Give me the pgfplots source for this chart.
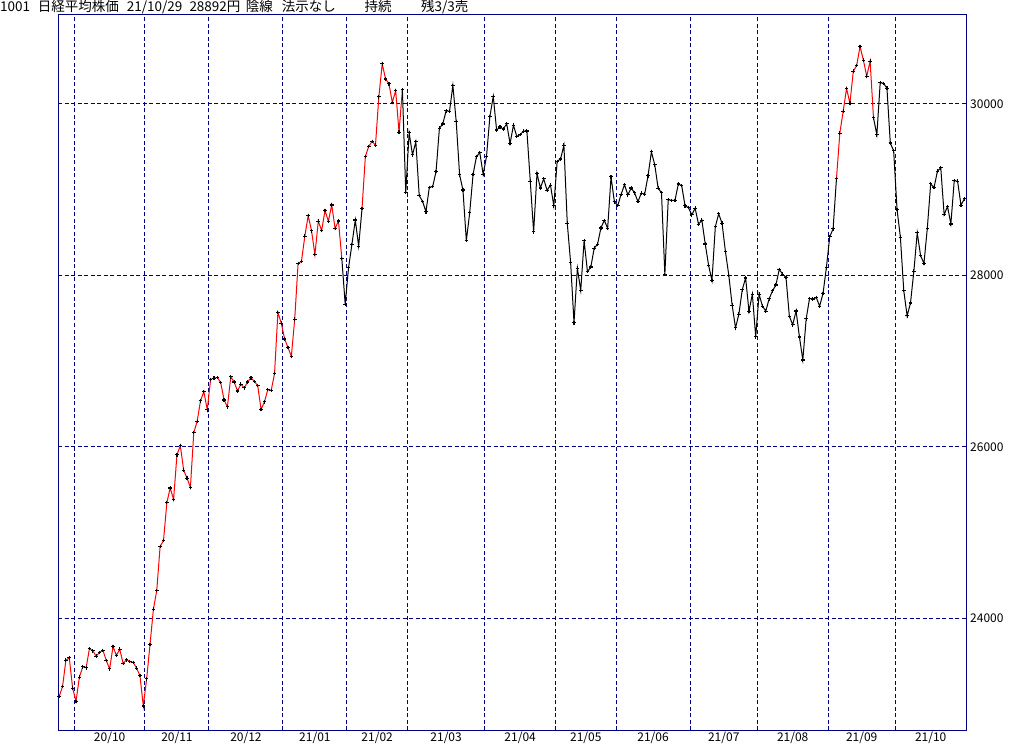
\documentclass[border=0pt]{standalone}
\usepackage{fontspec}
\setmainfont{Noto Sans CJK JP}
\usepackage{pgfplots}
\usepackage{pgfplotstable}
\pgfplotsset{compat=1.18}
\definecolor{navy}{RGB}{0,0,128}

% daily close, trading-day index 0 = 2020/09/24
\pgfplotstableread{
i c
0 23087.82
1 23204.62
2 23511.62
3 23539.10
4 23185.12
5 23029.90
6 23312.14
7 23433.73
8 23422.82
9 23647.07
10 23619.69
11 23558.69
12 23601.78
13 23626.73
14 23507.23
15 23410.63
16 23671.13
17 23567.04
18 23639.46
19 23474.27
20 23516.59
21 23494.34
22 23485.80
23 23418.51
24 23331.94
25 22977.13
26 23295.48
27 23695.23
28 24105.28
29 24325.23
30 24839.84
31 24905.59
32 25349.60
33 25520.88
34 25385.87
35 25906.93
36 26014.62
37 25728.14
38 25634.34
39 25527.37
40 26165.59
41 26296.86
42 26537.31
43 26644.71
44 26433.62
45 26787.54
46 26800.98
47 26809.37
48 26751.24
49 26547.44
50 26467.08
51 26817.94
52 26756.24
53 26652.52
54 26732.44
55 26687.84
56 26757.40
57 26806.67
58 26763.39
59 26714.42
60 26436.39
61 26524.79
62 26668.35
63 26656.61
64 26854.03
65 27568.15
66 27444.17
67 27258.38
68 27158.63
69 27055.94
70 27490.13
71 28139.03
72 28164.34
73 28456.59
74 28698.26
75 28519.18
76 28242.21
77 28633.46
78 28523.26
79 28756.86
80 28631.45
81 28822.29
82 28546.18
83 28635.21
84 28197.42
85 27663.39
86 28091.05
87 28362.17
88 28646.50
89 28341.95
90 28779.19
91 29388.50
92 29505.93
93 29562.93
94 29520.07
95 30084.15
96 30467.75
97 30292.19
98 30236.09
99 30017.92
100 30156.03
101 29671.70
102 30168.27
103 28966.01
104 29663.50
105 29408.17
106 29559.10
107 28930.11
108 28864.32
109 28743.25
110 29027.94
111 29036.56
112 29211.64
113 29717.83
114 29766.97
115 29921.09
116 29914.33
117 30216.75
118 29792.05
119 29174.15
120 28995.92
121 28405.52
122 28729.88
123 29176.70
124 29384.52
125 29432.70
126 29178.80
127 29388.87
128 29854.00
129 30089.25
130 29696.63
131 29730.79
132 29708.98
133 29768.06
134 29538.73
135 29751.61
136 29620.99
137 29642.69
138 29683.37
139 29685.37
140 29100.38
141 28508.55
142 29188.17
143 29020.63
144 29126.23
145 28991.89
146 29053.97
147 28812.63
148 29331.37
149 29357.82
150 29518.34
151 28608.59
152 28147.51
153 27448.01
154 28084.47
155 27824.83
156 28406.84
157 28044.45
158 28098.25
159 28317.83
160 28364.61
161 28553.98
162 28642.19
163 28549.01
164 29149.41
165 28860.08
166 28814.34
167 28946.14
168 29058.11
169 28941.52
170 29019.24
171 28963.56
172 28860.80
173 28958.56
174 28948.73
175 29161.80
176 29441.30
177 29291.01
178 29018.33
179 28964.08
180 28010.93
181 28884.13
182 28874.89
183 28875.23
184 29066.18
185 29048.02
186 28812.61
187 28791.53
188 28707.04
189 28783.28
190 28598.19
191 28643.21
192 28366.95
193 28118.03
194 27940.42
195 28569.02
196 28718.24
197 28608.49
198 28279.09
199 28003.08
200 27652.74
201 27388.16
202 27548.00
203 27833.29
204 27970.22
205 27581.66
206 27782.42
207 27283.59
208 27781.02
209 27641.83
210 27584.08
211 27728.12
212 27820.04
213 27888.15
214 28070.51
215 28015.02
216 27977.15
217 27523.19
218 27424.47
219 27585.91
220 27281.17
221 27013.25
222 27494.24
223 27732.10
224 27724.80
225 27742.29
226 27641.14
227 27789.29
228 28089.54
229 28451.02
230 28543.51
231 29128.11
232 29659.89
233 29916.14
234 30181.21
235 30008.19
236 30381.84
237 30447.37
238 30670.10
239 30511.71
240 30323.34
241 30500.05
242 29839.71
243 29639.40
244 30248.81
245 30240.06
246 30183.96
247 29544.29
248 29452.66
249 28771.07
250 28444.89
251 27822.12
252 27528.87
253 27678.21
254 28048.94
255 28498.20
256 28230.61
257 28140.28
258 28550.93
259 29068.63
260 29025.46
261 29215.52
262 29255.55
263 28708.58
264 28804.85
265 28600.41
266 29106.01
267 29098.24
268 28820.09
269 28892.69
}\nikkei

\begin{document}
\begin{tikzpicture}
\useasboundingbox (0,0) rectangle (1024pt,745pt);

% header line
\begin{scope}[every node/.style={anchor=base west, inner sep=0pt, font=\fontsize{13.5}{14}\selectfont}]
\node at (0pt,733.5pt) {1001};
\node at (37.7pt,733.5pt) {日経平均株価};
\node at (126.7pt,733.5pt) {21/10/29};
\node at (189.3pt,733.5pt) {28892円};
\node at (245.7pt,733.5pt) {陰線};
\node at (281.7pt,733.5pt) {法示なし};
\node at (364.3pt,733.5pt) {持続};
\node at (421pt,733.5pt) {残3/3売};
\end{scope}

\begin{axis}[
  at={(58pt,15pt)}, anchor=south west,
  scale only axis, width=908pt, height=715.5pt,
  xmin=-0.35, xmax=269.5, ymin=22697, ymax=31044,
  axis line style={navy, line width=1pt},
  major tick length=0pt, minor tick length=0pt,
  xtick={15,35,55.5,76,94.5,115,137,156.5,176.5,197.5,218,238.5,259},
  xticklabels={20/10,20/11,20/12,21/01,21/02,21/03,21/04,21/05,21/06,21/07,21/08,21/09,21/10},
  minor xtick={4.5,25.5,44.5,66.5,85.5,103.5,126.5,147.5,165.5,187.5,207.5,228.5,248.5},
  xminorgrids, ymajorgrids,
  minor grid style={navy, line width=1pt, dash pattern=on 4pt off 2.5pt},
  major grid style={navy, line width=1pt, dash pattern=on 4pt off 2.5pt},
  ytick={24000,26000,28000,30000},
  yticklabels={24000,26000,28000,30000},
  yticklabel pos=right,
  yticklabel style={anchor=west, inner sep=0pt, xshift=4pt},
  xticklabel style={anchor=north, inner sep=0pt, yshift=-2pt},
  tick label style={font=\fontsize{12}{12}\selectfont},
]
\addplot[red, line width=1pt, restrict x to domain=0:84] table[x=i,y=c] {\nikkei};
\addplot[black, line width=1pt, restrict x to domain=84:90] table[x=i,y=c] {\nikkei};
\addplot[red, line width=1pt, restrict x to domain=90:102] table[x=i,y=c] {\nikkei};
\addplot[black, line width=1pt, restrict x to domain=102:231] table[x=i,y=c] {\nikkei};
\addplot[red, line width=1pt, restrict x to domain=231:242] table[x=i,y=c] {\nikkei};
\addplot[black, line width=1pt, restrict x to domain=242:269] table[x=i,y=c] {\nikkei};
\addplot[only marks, mark=+, mark size=1.8pt, mark options={line width=1.15pt, black}] table[x=i,y=c] {\nikkei};
\end{axis}
\end{tikzpicture}
\end{document}
